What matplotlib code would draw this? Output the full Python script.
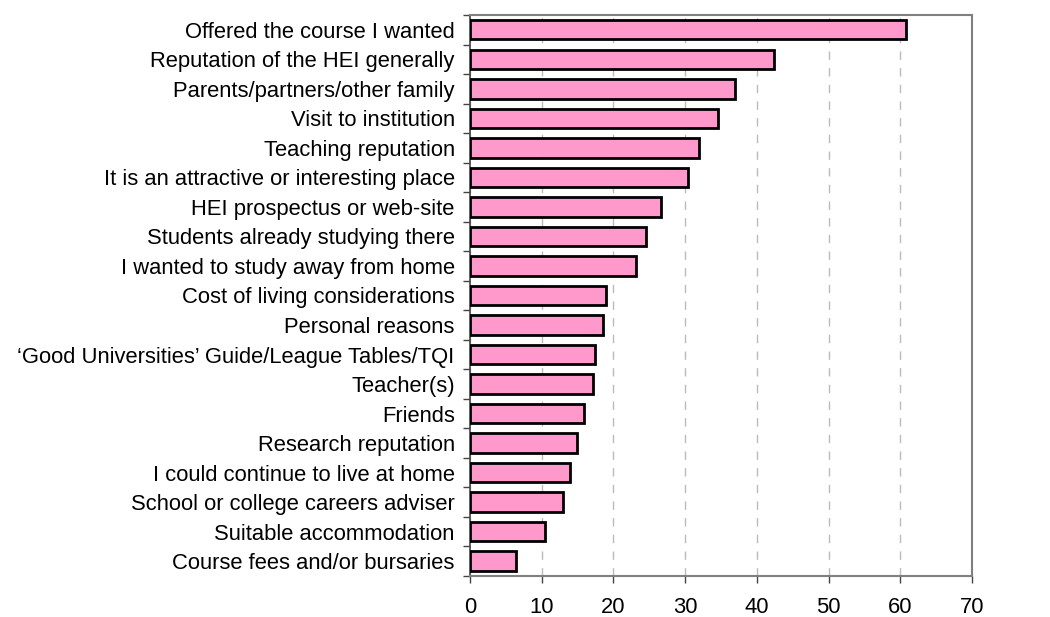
import numpy as np
import matplotlib
matplotlib.use("Agg")
import matplotlib.pyplot as plt

plt.rcParams["font.family"] = ["Liberation Sans", "DejaVu Sans"]

reasons = [
    "Offered the course I wanted",
    "Reputation of the HEI generally",
    "Parents/partners/other family",
    "Visit to institution",
    "Teaching reputation",
    "It is an attractive or interesting place",
    "HEI prospectus or web-site",
    "Students already studying there",
    "I wanted to study away from home",
    "Cost of living considerations",
    "Personal reasons",
    "\u2018Good Universities\u2019 Guide/League Tables/TQI",
    "Teacher(s)",
    "Friends",
    "Research reputation",
    "I could continue to live at home",
    "School or college careers adviser",
    "Suitable accommodation",
    "Course fees and/or bursaries",
]
percent = [60.8, 42.4, 37.0, 34.6, 31.9, 30.4, 26.7, 24.5, 23.1, 18.9,
           18.5, 17.5, 17.1, 15.9, 14.9, 14.0, 13.0, 10.4, 6.4]
xticks = [0, 10, 20, 30, 40, 50, 60, 70]

fig = plt.figure(figsize=(10.5, 6.17), dpi=100)
ax = fig.add_axes([0.4476, 0.0665, 0.4781, 0.9092])

n = len(reasons)
ypos = np.arange(n)
ax.barh(ypos, percent, height=0.66, color="#FF99CC", edgecolor="black",
        linewidth=2, zorder=3)

ax.set_ylim(n - 0.5, -0.5)
ax.set_xlim(0, 70)
ax.set_xticks(xticks)
ax.set_yticks(ypos)
ax.set_yticklabels(reasons, fontsize=15.8)
ax.tick_params(axis="y", length=0, pad=11)
ax.set_yticks(np.arange(n + 1) - 0.5, minor=True)
ax.tick_params(axis="y", which="minor", length=5, width=1, color="#444444")
ax.tick_params(axis="x", labelsize=15.8, length=5, width=1, color="#444444", pad=10.5)

ax.grid(axis="x", color="#BBBBBB", ls=(0, (6, 6)), lw=1, zorder=0)
for s in ["top", "right", "bottom"]:
    ax.spines[s].set_color("#808080")
    ax.spines[s].set_linewidth(1.5)
ax.spines["left"].set_color("#444444")
ax.spines["left"].set_linewidth(1.2)

fig.savefig("out.png", dpi=100)
plt.close()
